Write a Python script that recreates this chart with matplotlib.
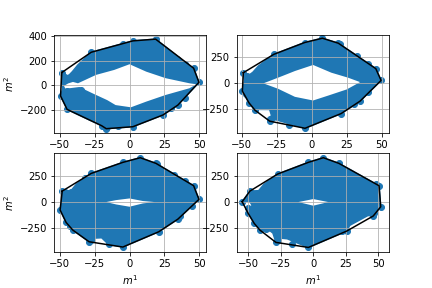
import matplotlib
matplotlib.use('Agg')
import matplotlib.pyplot as plt

# convex hull vertices of each panel
hull_tl_x = [-48.6, -49.5, -44.8, -20, -16.7, 2.4, 24, 34.7, 49.8, 46, 18.7, 2.4, -27.5]
hull_tl_y = [103, -86, -195, -327, -351, -335, -240, -160, 24, 138, 373, 359, 267]
hull_tr_x = [-48.8, -49.5, -44.8, -40.5, -30, -4.8, 21, 34.5, 49.5, 45.7, 19, 7.6, -5, -27]
hull_tr_y = [96, -80, -192, -263, -368, -436, -295, -176, 22, 135, 378, 426, 385, 272]
hull_bl_x = [-48.3, -49.8, -45.5, -40.7, -29, -4.8, 21, 34.7, 49.8, 46, 19, 7.7, -4.8, -27.5]
hull_bl_y = [106, -77, -197, -271, -384, -435, -287, -165, 26, 158, 374, 429, 384, 277]
hull_br_x = [-54.6, -50, -45.4, -41, -28.7, -3.8, 25.6, 46, 51.8, 50.5, 19.7, 7.7, -3.8, -27.4, -48.7]
hull_br_y = [3, -110, -206, -271, -390, -439, -281, -135, -45, 158, 374, 429, 384, 271, 106]

# outer edge of the filled cloud
outer_tl_x = [-48.6, -44, -41, -37, -27.5, 2.4, 18.7, 36, 39, 46, 49.8, 34.7, 24, 2.4, -16.7, -20, -44.8, -49.5, -48]
outer_tl_y = [103, 75, 110, 165, 267, 359, 373, 220, 190, 138, 24, -160, -240, -335, -351, -327, -195, -86, -30]
outer_tr_x = [-48.8, -46, -42, -38, -27, -5, 7.6, 19, 45.7, 49.5, 34.5, 21, -4.8, -28, -30, -41, -44.8, -49.5, -48]
outer_tr_y = [96, 60, 100, 160, 272, 385, 426, 378, 135, 22, -176, -295, -436, -345, -256, -255, -192, -80, 20]
outer_bl_x = [-48.3, -42, -38, -27.5, -4.8, 7.7, 19, 46, 49.8, 34.7, 21, -4.8, -15, -20, -27, -29, -40.7, -45.5, -49.8]
outer_bl_y = [106, 110, 175, 277, 384, 429, 374, 158, 26, -165, -287, -435, -410, -345, -350, -384, -271, -197, -77]
outer_br_x = [-54.6, -48.7, -42, -38, -27.4, -3.8, 7.7, 19.7, 50.5, 51.8, 46, 42, 28, 25.6, -3.8, -20, -24, -28.7, -31, -33, -41, -45.4, -50, -47, -49]
outer_br_y = [3, 106, 110, 170, 271, 384, 429, 374, 158, -45, -135, -130, -225, -281, -439, -355, -350, -390, -300, -280, -271, -206, -110, -30, 10]

# white hole in the middle of the cloud
hole_tl_x = [-47, -44, -40.6, -37, -24, -11, 0, 12, 26, 43, 48, 43, 26, 12, 1, -10, -16, -26, -36, -46]
hole_tl_y = [-5, 15, 27, 16, 84, 124, 170, 110, 57, 16, 8, -24, -78, -132, -178, -160, -120, -68, -14, -28]
hole_tr_x = [-34.5, -21, -12, 1, 14, 26, 34.5, 25, 12, 1, -12, -24]
hole_tr_y = [-6, 64, 112, 170, 96, 48, 6, -64, -122, -170, -135, -58]
hole_bl_x = [-16.7, -9.6, 0, 9.6, 18, 9.6, 0, -9.6]
hole_bl_y = [0, 19, 35, 10, 0, -13, -45, -23]
hole_br_x = [-11.5, 0, 11.5, 0]
hole_br_y = [0, 29, 0, -35]

# scattered points near the edge of the cloud
pts_tl_x = [-43, -40, -45, -40, -35, -46, -8, -5, -28, 34, 40, 44, -16, 30, 40]
pts_tl_y = [70, 70, -50, -45, -35, -70, -330, 330, 255, 210, 170, 120, -340, -180, -100]
pts_tr_x = [-46, -42, -47, -43, -28, -16, 20, 32, 40, -35, -30, 40, 30]
pts_tr_y = [65, 60, -110, -160, -340, -400, 370, 255, 180, -200, -350, -90, -205]
pts_bl_x = [-46, -42, -15, -28, -43, -32, 20, 32, 40, 36, 45, -28, -28]
pts_bl_y = [95, 100, -405, -370, -230, 235, 365, 260, 200, -130, -40, 260, -355]
pts_br_x = [-50, -46, -43, -47, -36, -16, -27, 20, 48, 47, 24, 22, -4]
pts_br_y = [-60, 80, -170, -80, -260, -410, -370, 370, 170, -110, -270, -280, 380]

hulls = [(hull_tl_x, hull_tl_y), (hull_tr_x, hull_tr_y), (hull_bl_x, hull_bl_y), (hull_br_x, hull_br_y)]
outers = [(outer_tl_x, outer_tl_y), (outer_tr_x, outer_tr_y), (outer_bl_x, outer_bl_y), (outer_br_x, outer_br_y)]
holes = [(hole_tl_x, hole_tl_y), (hole_tr_x, hole_tr_y), (hole_bl_x, hole_bl_y), (hole_br_x, hole_br_y)]
pts = [(pts_tl_x, pts_tl_y), (pts_tr_x, pts_tr_y), (pts_bl_x, pts_bl_y), (pts_br_x, pts_br_y)]
xlims = [(-54.2, 55), (-53.6, 55), (-54.2, 55), (-58.9, 58)]
ylims = [(-389, 410), (-485, 461), (-483, 473), (-483, 473)]
xticks = [-50, -25, 0, 25, 50]
yticks = [[-200, 0, 200, 400], [-250, 0, 250], [-250, 0, 250], [-250, 0, 250]]

fig, axs = plt.subplots(2, 2, figsize=(6, 4), dpi=72)
fig.subplots_adjust(bottom=0.125)
blue = '#1f77b4'

for i, ax in enumerate(axs.flat):
    ax.fill(outers[i][0], outers[i][1], color=blue, lw=1.5, zorder=1)
    ax.fill(holes[i][0], holes[i][1], color='white', lw=0, zorder=1)
    ax.scatter(hulls[i][0] + pts[i][0], hulls[i][1] + pts[i][1], color=blue, zorder=1)
    ax.plot(hulls[i][0] + hulls[i][0][:1], hulls[i][1] + hulls[i][1][:1], color='black')
    ax.set_xlim(xlims[i])
    ax.set_ylim(ylims[i])
    ax.set_xticks(xticks)
    ax.set_yticks(yticks[i])
    ax.grid(True)

axs[0, 0].set_ylabel('$m^2$')
axs[1, 0].set_ylabel('$m^2$')
axs[1, 0].set_xlabel('$m^1$')
axs[1, 1].set_xlabel('$m^1$')

fig.savefig('out.png')
